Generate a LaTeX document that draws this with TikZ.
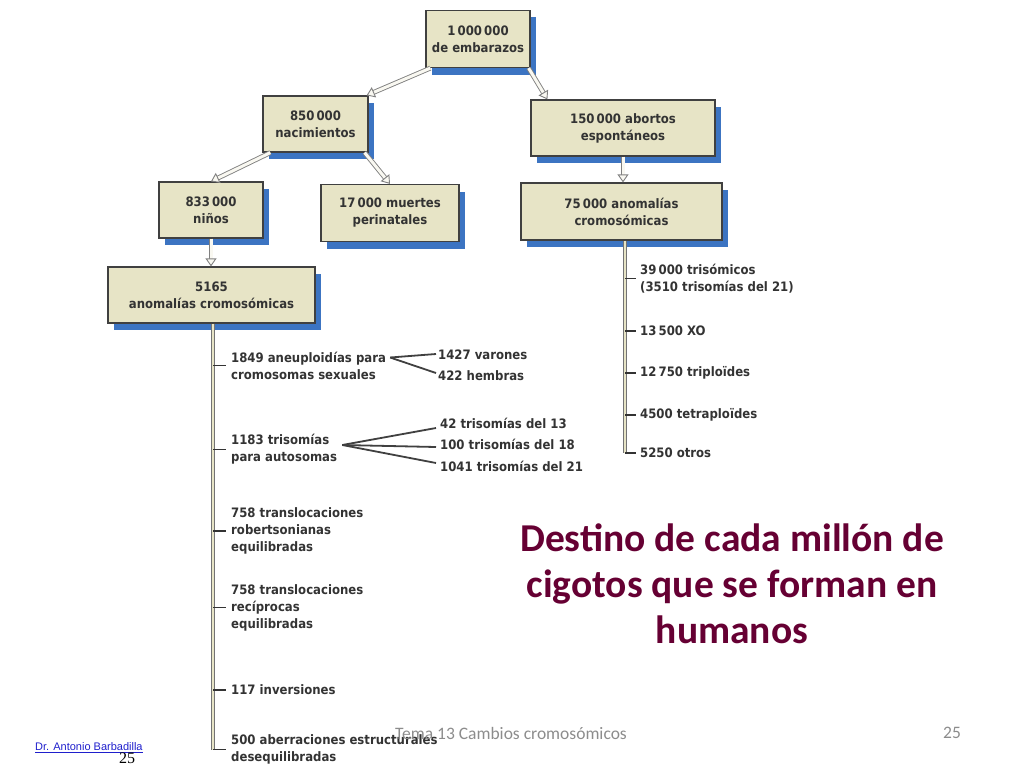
\documentclass[tikz,border=0pt]{standalone}
\usepackage{fontspec}
\setmainfont{DejaVu Sans Condensed}
\newfontfamily\titlefont{Carlito}
\newfontfamily\arialfont{Liberation Sans}
\newfontfamily\timesfont{Liberation Serif}
\usetikzlibrary{arrows.meta,shadows,calc}
\definecolor{boxfill}{HTML}{E7E4C6}
\definecolor{shadowblue}{HTML}{3C74C2}
\definecolor{titlecol}{HTML}{660033}
\definecolor{txt}{HTML}{333333}
\definecolor{footgray}{HTML}{8C8C8C}
\definecolor{linkblue}{HTML}{1F1FCC}
\tikzset{
  box/.style={draw=black!75, line width=1.2pt, fill=boxfill, align=center,
    inner sep=0pt, font=\bfseries\fontsize{13}{17}\selectfont, text=txt,
    general shadow={fill=shadowblue, shadow xshift=6pt, shadow yshift=-7pt}},
  harrow/.style={draw=black!50, line width=0.9pt, double=white!75!boxfill,
    double distance=3pt,
    -{Triangle[open,length=8pt,width=11pt,fill=white!75!boxfill]}},
  trunk/.style={draw=black!55, line width=0.9pt, double=boxfill, double distance=2.8pt},
  tick/.style={draw=black!80, line width=1.8pt},
  branch/.style={draw=black!75, line width=1.8pt},
  item/.style={anchor=west, align=left, inner sep=0pt,
    font=\bfseries\fontsize{13}{17}\selectfont, text=txt},
}
\begin{document}
\begin{tikzpicture}[x=1pt,y=-1pt]
\useasboundingbox (0,0) rectangle (1024,768);

% boxes
\node[box, minimum width=104pt, minimum height=57pt] (b1) at (478,39) {1\,000\,000\\de embarazos};
\node[box, minimum width=105pt, minimum height=56pt] (b2) at (315.5,124) {850\,000\\nacimientos};
\node[box, minimum width=184pt, minimum height=56pt] (b3) at (623,128) {150\,000 abortos\\espontáneos};
\node[box, minimum width=104pt, minimum height=56pt] (b4) at (211,210) {833\,000\\niños};
\node[box, minimum width=138pt, minimum height=57pt] (b5) at (390,213) {17\,000 muertes\\perinatales};
\node[box, minimum width=201pt, minimum height=57pt] (b6) at (621.5,211.5) {75\,000 anomalías\\cromosómicas};
\node[box, minimum width=207pt, minimum height=56pt] (b7) at (211.5,295) {5165\\anomalías cromosómicas};

% hollow arrows between boxes
\draw[harrow] ([xshift=5pt]b1.south west) -- ([xshift=-2pt]b2.north east);
\draw[harrow] ([xshift=-2pt]b1.south east) -- ([xshift=17pt]b3.north west);
\draw[harrow] ([xshift=8pt]b2.south west) -- (b4.north);
\draw[harrow] ([xshift=-4pt]b2.south east) -- (b5.north);
\draw[harrow] (b3.south) -- (b3.south |- b6.north);
\draw[harrow] (b4.south) -- (b4.south |- b7.north);

% left list
\node[item] (an) at (231,365.5) {1849 aneuploidías para\\cromosomas sexuales};
\node[item] (va) at (438,355) {1427 varones};
\node[item] (he) at (438,376) {422 hembras};
\node[item] (tr) at (231,449.5) {1183 trisomías\\para autosomas};
\node[item] (t13) at (440,423) {42 trisomías del 13};
\node[item] (t18) at (440,444) {100 trisomías del 18};
\node[item] (t21) at (440,466) {1041 trisomías del 21};
\node[item] (rob) at (231,531) {758 translocaciones\\robertsonianas\\equilibradas};
\node[item] (rec) at (231,607.5) {758 translocaciones\\recíprocas\\equilibradas};
\node[item] (inv) at (231,690) {117 inversiones};
\node[item] (abe) at (231,749.5) {500 aberraciones estructurales\\desequilibradas};

\coordinate (ltop) at ([xshift=1.5pt]b7.south);
\coordinate (lfoot) at (ltop |- abe.west);
\draw[trunk] (ltop) -- (lfoot);
\foreach \n in {an,tr,rob,rec,inv,abe}
  \draw[tick] (ltop |- \n.west) -- ([xshift=-5pt]\n.west);

% branches
\coordinate (ap1) at ([xshift=4pt,yshift=8pt]an.east);
\draw[branch] (ap1) -- ([xshift=-2pt,yshift=1pt]va.west);
\draw[branch] (ap1) -- ([xshift=-2pt,yshift=3pt]he.west);
\coordinate (ap2) at ([xshift=5pt,yshift=4.5pt]tr.east);
\draw[branch] (ap2) -- ([xshift=-4pt,yshift=-5pt]t13.west);
\draw[branch] (ap2) -- ([xshift=-4pt,yshift=-3pt]t18.west);
\draw[branch] (ap2) -- ([xshift=-4pt,yshift=3pt]t21.west);

% right list
\node[item] (tso) at (640,278.5) {39\,000 trisómicos\\(3510 trisomías del 21)};
\node[item] (xo) at (640,331) {13\,500 XO};
\node[item] (tri) at (640,373) {12\,750 triploïdes};
\node[item] (tet) at (640,415) {4500 tetraploïdes};
\node[item] (otr) at (640,453) {5250 otros};

\coordinate (rtop) at ([xshift=3.5pt]b6.south);
\coordinate (rfoot) at (rtop |- otr.west);
\draw[trunk] (rtop) -- (rfoot);
\foreach \n in {tso,xo,tri,tet,otr}
  \draw[tick] (rtop |- \n.west) -- ([xshift=-4pt]\n.west);

% title
\node[align=center, text=titlecol, font=\titlefont\bfseries\fontsize{39.5}{46}\selectfont]
  (title) at (732,584) {Destino de cada millón de\\cigotos que se forman en\\humanos};

% footer
\node[text=footgray, font=\titlefont\fontsize{17.5}{20}\selectfont] (tema) at (511,733) {Tema 13 Cambios cromosómicos};
\node[text=footgray, font=\titlefont\fontsize{17.5}{20}\selectfont] (pg) at (952,733) {25};
\node[anchor=west, inner sep=0pt, text=linkblue, font=\arialfont\fontsize{11}{12}\selectfont] (dr) at (35,748) {\underline{Dr. Antonio Barbadilla}};
\node[text=black, font=\timesfont\fontsize{16}{18}\selectfont] (pg2) at (127,758) {25};
\end{tikzpicture}
\end{document}
